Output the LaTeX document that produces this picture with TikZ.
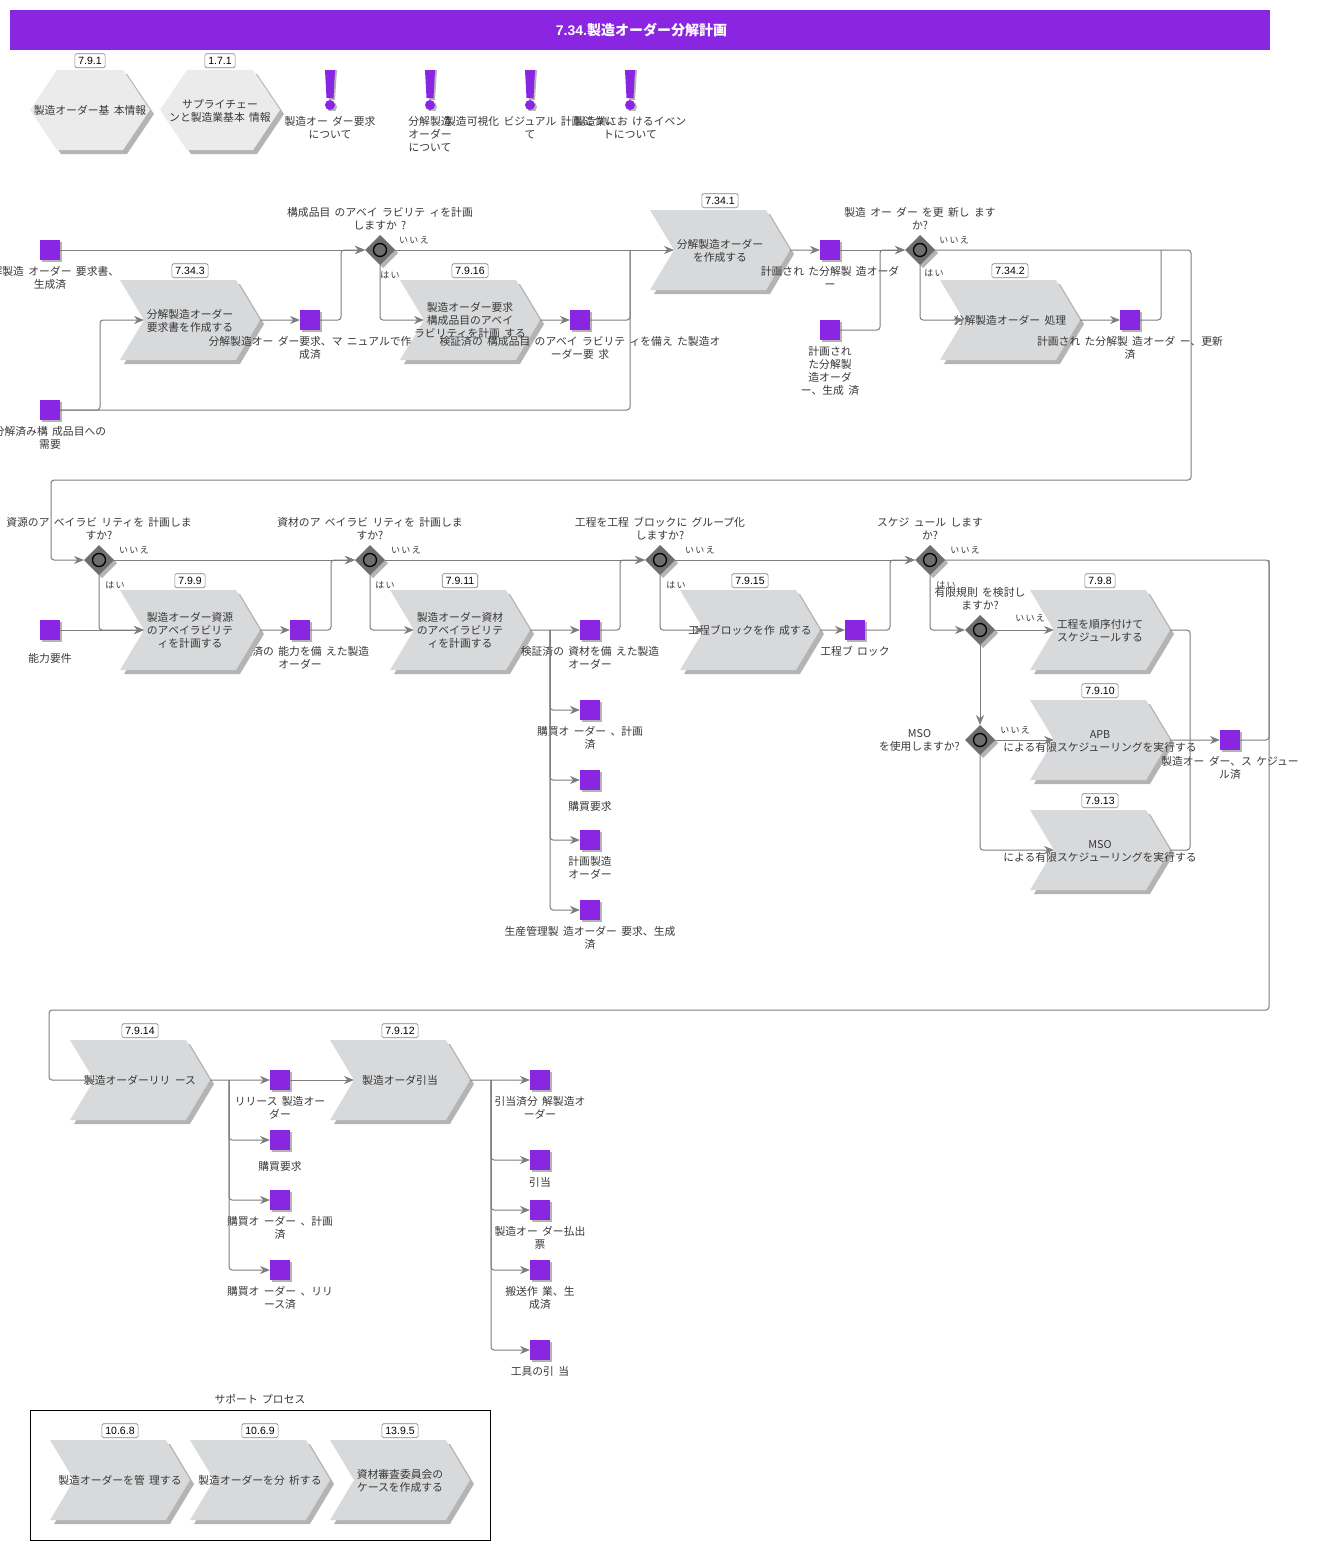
\documentclass[tikz,border=0pt]{standalone}
\usepackage{fontspec}
\setmainfont[WordSpace=1.8]{Noto Sans CJK JP}
\newfontfamily\tagfont{Liberation Sans}
\usetikzlibrary{shapes.geometric, shapes.symbols, arrows.meta, positioning, shadows}
\definecolor{violetbar}{RGB}{138,38,226}
\definecolor{funcgray}{RGB}{216,217,219}
\definecolor{hexgray}{RGB}{235,235,235}
\definecolor{shadowgray}{RGB}{180,180,180}
\definecolor{linegray}{RGB}{125,125,125}
\definecolor{gategray}{RGB}{110,110,110}
\definecolor{textgray}{RGB}{55,55,55}
\newcommand{\cl}[1]{\vbox{\vskip4pt\hbox{\makebox[0pt]{\begin{tabular}{@{}c@{}}#1\end{tabular}}}}}
\tikzstyle{func} = [shape=signal, signal from=west, signal to=east, signal pointer angle=118, minimum width=140pt, minimum height=80pt, inner sep=0pt, outer sep=0pt, fill=funcgray, text=textgray, font=\fontsize{10.8}{13}\selectfont, drop shadow={shadow xshift=4pt, shadow yshift=-4pt, fill=shadowgray, opacity=1}]
\tikzstyle{hexa} = [func, signal from=nowhere, signal to=west and east, signal pointer angle=112, minimum width=120pt, fill=hexgray]
\tikzstyle{obj} = [rectangle, minimum size=20pt, inner sep=0pt, outer sep=0pt, fill=violetbar, drop shadow={shadow xshift=2pt, shadow yshift=-2pt, fill=shadowgray, opacity=1}]
\tikzstyle{gate} = [diamond, aspect=1, minimum size=30pt, inner sep=0pt, outer sep=0pt, fill=gategray, drop shadow={shadow xshift=3pt, shadow yshift=-3pt, fill=shadowgray, opacity=1}, path picture={\draw [black, fill=gategray, line width=1.3pt] (path picture bounding box.center) circle (6.5pt);}]
\tikzstyle{evt} = [rectangle, minimum width=20pt, minimum height=40pt, inner sep=0pt, path picture={
	\fill [shadowgray] ([shift={(-3pt,-0pt)}]path picture bounding box.north) -- ([shift={(7pt,0pt)}]path picture bounding box.north) -- ([shift={(5pt,-30pt)}]path picture bounding box.north) -- ([shift={(-1pt,-30pt)}]path picture bounding box.north) -- cycle;
	\fill [violetbar] ([xshift=-5pt]path picture bounding box.north) -- ([xshift=5pt]path picture bounding box.north) -- ([shift={(3.5pt,-28pt)}]path picture bounding box.north) -- ([shift={(-3.5pt,-28pt)}]path picture bounding box.north) -- cycle;
	\fill [shadowgray] ([yshift=3pt,xshift=2pt]path picture bounding box.south) circle (5pt);
	\fill [violetbar] ([yshift=5pt]path picture bounding box.south) circle (5pt);}]
\tikzstyle{tag} = [rectangle, rounded corners=1.5pt, draw=gray, fill=white, minimum height=14pt, inner xsep=3.5pt, inner ysep=0pt, line width=0.6pt, font=\tagfont\fontsize{10.5}{11}\selectfont]
\tikzstyle{lbl} = [inner sep=0pt, align=center, text=textgray, font=\fontsize{10.8}{13}\selectfont]
\tikzstyle{small} = [inner sep=0pt, text=textgray, font=\fontsize{9}{10}\selectfont\addfontfeature{LetterSpace=14}]
\tikzstyle{arrow} = [draw=linegray, line width=1pt, rounded corners=3pt, ->, >={Stealth[length=10pt, width=8pt]}]
\tikzstyle{link} = [draw=linegray, line width=1pt, rounded corners=3pt]
\begin{document}
\begin{tikzpicture}[x=1pt, y=-1pt, node distance=7pt]
	\useasboundingbox (0,0) rectangle (1319,1550);
	\node (title) [rectangle, minimum width=1260pt, minimum height=40pt, fill=violetbar, text=white, font=\bfseries\fontsize{14}{15}\selectfont] at (640,30) {\hspace{3pt}{\tagfont\bfseries 7.34.}製造オーダー分解計画};

	\node (info1) [hexa] at (90,110) {\cl{製造オーダー基 本情報}};
	\node (info1_t) [tag, above=2pt of info1] {7.9.1};
	\node (info2) [hexa] at (220,110) {\cl{サプライチェー\\ンと製造業基本 情報}};
	\node (info2_t) [tag, above=2pt of info2] {1.7.1};
	\node (event1) [evt] at (330,90) {};
	\node (event1_l) [lbl, below=6pt of event1] {製造オー ダー要求\\について};
	\node (event2) [evt] at (430,90) {};
	\node (event2_l) [lbl, below=6pt of event2] {分解製造\\オーダー\\について};
	\node (event3) [evt] at (530,90) {};
	\node (event3_l) [lbl, below=6pt of event3] {製造可視化 ビジュアル 計画につい\\て};
	\node (event4) [evt] at (630,90) {};
	\node (event4_l) [lbl, below=6pt of event4] {製造業にお けるイベン\\トについて};

	\node (request1) [func] at (190,320) {\cl{分解製造オーダー\\要求書を作成する}};
	\node (request1_t) [tag, above=2pt of request1] {7.34.3};
	\node (check1) [func] at (470,320) {\cl{製造オーダー要求\\構成品目のアベイ\\ラビリティを計画 する}};
	\node (check1_t) [tag, above=2pt of check1] {7.9.16};
	\node (create1) [func] at (720,250) {\cl{分解製造オーダー\\を作成する}};
	\node (create1_t) [tag, above=2pt of create1] {7.34.1};
	\node (handle1) [func] at (1010,320) {\cl{分解製造オーダー 処理}};
	\node (handle1_t) [tag, above=2pt of handle1] {7.34.2};

	\node (state1) [obj] at (50,250) {};
	\node (state1_l) [lbl, below=6pt of state1] {分解製造 オーダー 要求書、\\生成済};
	\node (state2) [obj] at (50,410) {};
	\node (state2_l) [lbl, below=6pt of state2] {分解済み構 成品目への\\需要};
	\node (state3) [obj] at (310,320) {};
	\node (state3_l) [lbl, below=6pt of state3] {分解製造オー ダー要求、マ ニュアルで作\\成済};
	\node (state4) [obj] at (580,320) {};
	\node (state4_l) [lbl, below=6pt of state4] {検証済の 構成品目 のアベイ ラビリテ ィを備え た製造オ\\ーダー要 求};
	\node (state5) [obj] at (830,250) {};
	\node (state5_l) [lbl, below=6pt of state5] {計画され た分解製 造オーダ\\ー};
	\node (state6) [obj] at (830,330) {};
	\node (state6_l) [lbl, below=6pt of state6] {計画され\\た分解製\\造オーダ\\ー、生成 済};
	\node (state7) [obj] at (1130,320) {};
	\node (state7_l) [lbl, below=6pt of state7] {計画され た分解製 造オーダ ー、更新\\済};

	\node (gate1) [gate] at (380,250) {};
	\node (gate1_l) [lbl, above=5pt of gate1] {構成品目 のアベイ ラビリテ ィを計画\\しますか ?};
	\node (gate1_n) [small] at (414,240) {いいえ};
	\node (gate1_y) [small] at (390,275) {はい};
	\node (gate2) [gate] at (920,250) {};
	\node (gate2_l) [lbl, above=5pt of gate2] {製造 オー ダー を更 新し ます\\か?};
	\node (gate2_n) [small] at (954,240) {いいえ};
	\node (gate2_y) [small] at (934,273) {はい};

	\node (state9) [obj] at (300,630) {};
	\node (state9_l) [lbl, below=6pt of state9] {検証済の 能力を備 えた製造\\オーダー};
	\node (resource1) [func] at (190,630) {\cl{製造オーダー資源\\のアベイラビリテ\\ィを計画する}};
	\node (resource1_t) [tag, above=2pt of resource1] {7.9.9};
	\node (material1) [func] at (460,630) {\cl{製造オーダー資材\\のアベイラビリテ\\ィを計画する}};
	\node (material1_t) [tag, above=2pt of material1] {7.9.11};
	\node (block1) [func] at (750,630) {\cl{工程ブロックを作 成する}};
	\node (block1_t) [tag, above=2pt of block1] {7.9.15};
	\node (order1) [func] at (1100,630) {\cl{工程を順序付けて\\スケジュールする}};
	\node (order1_t) [tag, above=2pt of order1] {7.9.8};
	\node (apb1) [func] at (1100,740) {\cl{APB\\による有限スケジューリングを実行する}};
	\node (apb1_t) [tag, above=2pt of apb1] {7.9.10};
	\node (mso1) [func] at (1100,850) {\cl{MSO\\による有限スケジューリングを実行する}};
	\node (mso1_t) [tag, above=2pt of mso1] {7.9.13};

	\node (state8) [obj] at (50,630) {};
	\node (state8_l) [lbl, below=13pt of state8] {能力要件};
	\node (state10) [obj] at (590,630) {};
	\node (state10_l) [lbl, below=6pt of state10] {検証済の 資材を備 えた製造\\オーダー};
	\node (state11) [obj] at (590,710) {};
	\node (state11_l) [lbl, below=6pt of state11] {購買オ ーダー 、計画\\済};
	\node (state12) [obj] at (590,780) {};
	\node (state12_l) [lbl, below=11pt of state12] {購買要求};
	\node (state13) [obj] at (590,840) {};
	\node (state13_l) [lbl, below=6pt of state13] {計画製造\\オーダー};
	\node (state14) [obj] at (590,910) {};
	\node (state14_l) [lbl, below=6pt of state14] {生産管理製 造オーダー 要求、生成\\済};
	\node (state15) [obj] at (855,630) {};
	\node (state15_l) [lbl, below=6pt of state15] {工程ブ ロック};
	\node (state16) [obj] at (1230,740) {};
	\node (state16_l) [lbl, below=6pt of state16] {製造オー ダー、ス ケジュー\\ル済};

	\node (gate3) [gate] at (99,560) {};
	\node (gate3_l) [lbl, above=5pt of gate3] {資源のア ベイラビ リティを 計画しま\\すか?};
	\node (gate3_n) [small] at (134,550) {いいえ};
	\node (gate3_y) [small] at (115,585) {はい};
	\node (gate4) [gate] at (370,560) {};
	\node (gate4_l) [lbl, above=5pt of gate4] {資材のア ベイラビ リティを 計画しま\\すか?};
	\node (gate4_n) [small] at (406,550) {いいえ};
	\node (gate4_y) [small] at (385,585) {はい};
	\node (gate5) [gate] at (660,560) {};
	\node (gate5_l) [lbl, above=5pt of gate5] {工程を工程 ブロックに グループ化\\しますか?};
	\node (gate5_n) [small] at (700,550) {いいえ};
	\node (gate5_y) [small] at (676,585) {はい};
	\node (gate6) [gate] at (930,560) {};
	\node (gate6_l) [lbl, above=5pt of gate6] {スケジ ュール します\\か?};
	\node (gate6_n) [small] at (965,550) {いいえ};
	\node (gate6_y) [small] at (946,585) {はい};
	\node (gate7) [gate] at (980,630) {};
	\node (gate7_l) [lbl, above=5pt of gate7] {有限規則 を検討し\\ますか?};
	\node (gate7_n) [small] at (1030,618) {いいえ};
	\node (gate8) [gate] at (980,740) {};
	\node (gate8_l) [lbl, left=5pt of gate8] {MSO\\を使用しますか?};
	\node (gate8_n) [small] at (1015,730) {いいえ};

	\node (release1) [func] at (140,1080) {\cl{製造オーダーリリ ース}};
	\node (release1_t) [tag, above=2pt of release1] {7.9.14};
	\node (assign1) [func] at (400,1080) {\cl{製造オーダ引当}};
	\node (assign1_t) [tag, above=2pt of assign1] {7.9.12};
	\node (state17) [obj] at (280,1080) {};
	\node (state17_l) [lbl, below=6pt of state17] {リリース 製造オー\\ダー};
	\node (state18) [obj] at (280,1140) {};
	\node (state18_l) [lbl, below=11pt of state18] {購買要求};
	\node (state19) [obj] at (280,1200) {};
	\node (state19_l) [lbl, below=6pt of state19] {購買オ ーダー 、計画\\済};
	\node (state20) [obj] at (280,1270) {};
	\node (state20_l) [lbl, below=6pt of state20] {購買オ ーダー 、リリ\\ース済};
	\node (state21) [obj] at (540,1080) {};
	\node (state21_l) [lbl, below=6pt of state21] {引当済分 解製造オ\\ーダー};
	\node (state22) [obj] at (540,1160) {};
	\node (state22_l) [lbl, below=7pt of state22] {引当};
	\node (state23) [obj] at (540,1210) {};
	\node (state23_l) [lbl, below=6pt of state23] {製造オー ダー払出\\票};
	\node (state24) [obj] at (540,1270) {};
	\node (state24_l) [lbl, below=6pt of state24] {搬送作 業、生\\成済};
	\node (state25) [obj] at (540,1350) {};
	\node (state25_l) [lbl, below=6pt of state25] {工具の引 当};

	\node (support) [rectangle, draw=black, line width=0.8pt, minimum width=460pt, minimum height=130pt] at (260,1475) {};
	\node (support_l) [lbl, above=5pt of support] {サポート プロセス};
	\node (manage1) [func] at (120,1480) {\cl{製造オーダーを管 理する}};
	\node (manage1_t) [tag, above=2pt of manage1] {10.6.8};
	\node (analyze1) [func] at (260,1480) {\cl{製造オーダーを分 析する}};
	\node (analyze1_t) [tag, above=2pt of analyze1] {10.6.9};
	\node (review1) [func] at (400,1480) {\cl{資材審査委員会の\\ケースを作成する}};
	\node (review1_t) [tag, above=2pt of review1] {13.9.5};

	\coordinate (turn1) at (1191,480);
	\coordinate (turn2) at (51,480);
	\coordinate (turn3) at (1269,1010);
	\coordinate (turn4) at (49,1010);

	\draw [arrow] (state1) -- (gate1);
	\draw [arrow] (state2) -| (100,320) -- (request1.west);
	\draw [link] (state2) -| (630,250);
	\draw [arrow] (request1) -- (state3);
	\draw [arrow] (state3) -| (341,250) -- (gate1);
	\draw [arrow] (gate1) |- (check1.west);
	\draw [arrow] (check1) -- (state4);
	\draw [link] (state4) -| (630,250);
	\draw [arrow] (gate1) -- (create1.west);
	\draw [arrow] (create1) -- (state5);
	\draw [arrow] (state5) -- (gate2);
	\draw [arrow] (state6) -| (880,250) -- (gate2);
	\draw [arrow] (gate2) |- (handle1.west);
	\draw [arrow] (handle1) -- (state7);
	\draw [link] (state7) -| (1161,250);
	\draw [arrow] (gate2) -- (turn1 |- gate2) -- (turn1) -- (turn2) -- (turn2 |- gate3) -- (gate3);
	\draw [arrow] (gate3) |- (resource1.west);
	\draw [arrow] (state8) -- (resource1.west);
	\draw [arrow] (resource1) -- (state9);
	\draw [arrow] (state9) -| (331,560) -- (gate4);
	\draw [arrow] (gate3) -- (gate4);
	\draw [arrow] (gate4) |- (material1.west);
	\draw [arrow] (material1) -- (state10);
	\draw [arrow] (state10) -| (620,560) -- (gate5);
	\draw [arrow] (550,630) |- (state11);
	\draw [arrow] (550,630) |- (state12);
	\draw [arrow] (550,630) |- (state13);
	\draw [arrow] (550,630) |- (state14);
	\draw [arrow] (gate4) -- (gate5);
	\draw [arrow] (gate5) |- (block1.west);
	\draw [arrow] (block1) -- (state15);
	\draw [arrow] (state15) -| (890,560) -- (gate6);
	\draw [arrow] (gate5) -- (gate6);
	\draw [arrow] (gate6) |- (gate7);
	\draw [arrow] (gate7) -- (order1.west);
	\draw [arrow] (gate7) -- (gate8);
	\draw [arrow] (gate8) -- (apb1.west);
	\draw [arrow] (gate8) |- (mso1.west);
	\draw [arrow] (apb1) -- (state16);
	\draw [link] (order1) -| (1190,740);
	\draw [link] (mso1) -| (1190,740);
	\draw [link] (state16) -| (1269,560);
	\draw [arrow] (gate6) -- (turn3 |- gate6) -- (turn3) -- (turn4) -- (turn4 |- release1) -- (release1.west);
	\draw [arrow] (release1) -- (state17);
	\draw [arrow] (229,1080) |- (state18);
	\draw [arrow] (229,1080) |- (state19);
	\draw [arrow] (229,1080) |- (state20);
	\draw [arrow] (state17) -- (assign1.west);
	\draw [arrow] (assign1) -- (state21);
	\draw [arrow] (491,1080) |- (state22);
	\draw [arrow] (491,1080) |- (state23);
	\draw [arrow] (491,1080) |- (state24);
	\draw [arrow] (491,1080) |- (state25);
\end{tikzpicture}
\end{document}
